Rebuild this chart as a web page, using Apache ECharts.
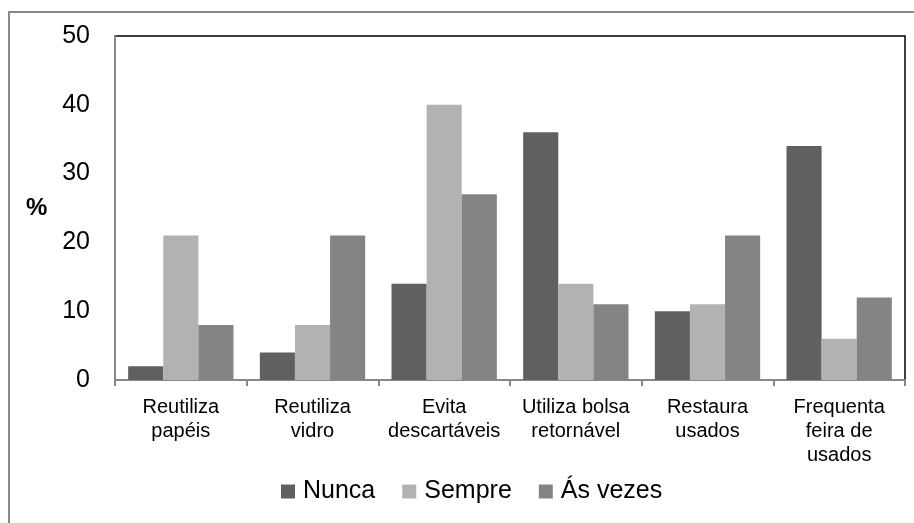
<!DOCTYPE html>
<html>
<head>
<meta charset="utf-8">
<script src="https://cdn.jsdelivr.net/npm/echarts@6/dist/echarts.min.js"></script>
<style>
  html, body { margin: 0; padding: 0; background: #fff; }
  #chart { width: 914px; height: 523px; }
</style>
</head>
<body>
<div id="chart"></div>
<script>
// categorias e valores (%)
const categories = [
  'Reutiliza\npapéis',
  'Reutiliza\nvidro',
  'Evita\ndescartáveis',
  'Utiliza bolsa\nretornável',
  'Restaura\nusados',
  'Frequenta\nfeira de\nusados'
];
const nunca = [2, 4, 14, 36, 10, 34];
const sempre = [21, 8, 40, 14, 11, 6];
const asVezes = [8, 21, 27, 11, 21, 12];

const chart = echarts.init(document.getElementById('chart'));
const font = 'Liberation Sans, Arial, sans-serif';

const option = {
  animation: false,
  textStyle: { fontFamily: font },
  grid: {
    left: 115, right: 9, top: 36, bottom: 143,
    show: true, borderColor: '#000', borderWidth: 1.5
  },
  graphic: [
    {
      type: 'rect',
      shape: { x: 9, y: 12, width: 920, height: 530 },
      style: { fill: 'none', stroke: '#888', lineWidth: 2 },
      z: -1
    },
    {
      type: 'text',
      left: 26, top: 196,
      style: { text: '%', font: 'bold 24px ' + font, fill: '#000' }
    }
  ],
  legend: {
    bottom: 14,
    left: 276,
    icon: 'rect',
    itemWidth: 14,
    itemHeight: 14,
    itemGap: 27,
    textStyle: { fontSize: 25, color: '#000', padding: [0, 0, 0, 3] },
    data: ['Nunca', 'Sempre', 'Ás vezes']
  },
  xAxis: {
    type: 'category',
    data: categories,
    axisLine: { lineStyle: { color: '#888', width: 2 } },
    axisTick: { show: true, length: 6, lineStyle: { color: '#888', width: 2 } },
    axisLabel: { interval: 0, fontSize: 20, lineHeight: 24, color: '#000', margin: 15 }
  },
  yAxis: {
    type: 'value',
    min: 0, max: 50, interval: 10,
    axisLine: { show: true, lineStyle: { color: '#888', width: 2 } },
    axisTick: { show: false },
    splitLine: { show: false },
    axisLabel: { fontSize: 25, color: '#000', margin: 25 }
  },
  series: [
    { name: 'Nunca', type: 'bar', data: nunca, barGap: '0%', barCategoryGap: '20%', itemStyle: { color: '#606060' } },
    { name: 'Sempre', type: 'bar', data: sempre, itemStyle: { color: '#b2b2b2' } },
    { name: 'Ás vezes', type: 'bar', data: asVezes, itemStyle: { color: '#848484' } }
  ]
};

chart.setOption(option);
</script>
</body>
</html>
